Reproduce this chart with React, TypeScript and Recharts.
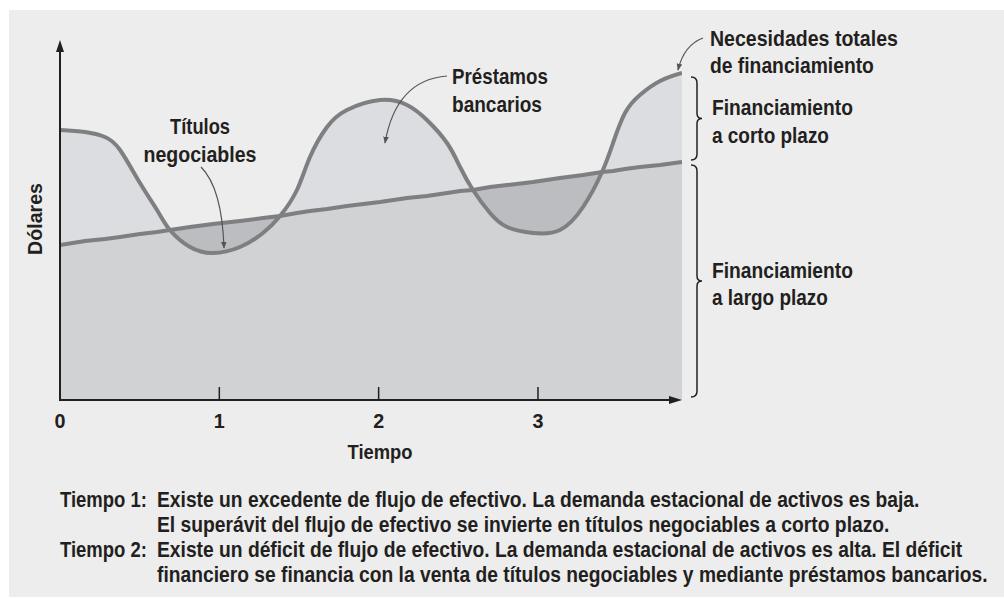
import React, { useLayoutEffect, useRef, useState } from 'react';
import { ComposedChart, Area, Line, XAxis, YAxis, ReferenceLine } from 'recharts';

// tiempo (eje x)
const tiempo = [
  0, 0.157, 0.282, 0.377, 0.502, 0.609, 0.69, 0.816, 0.96, 1.13, 1.274, 1.381,
  1.487, 1.569, 1.676, 1.801, 2.008, 2.178, 2.303, 2.429, 2.511, 2.592, 2.699,
  2.806, 2.969, 3.138, 3.283, 3.402, 3.471, 3.546, 3.64, 3.766, 3.904,
];

// necesidades totales de financiamiento (curva estacional)
const necesidadesTotales = [
  270, 268, 263, 250, 217, 190, 170, 153, 147, 153, 167, 184,
  210, 243, 273, 290, 300, 295, 280, 257, 233, 210, 187,
  173, 167, 170, 193, 228, 257, 287, 305, 319, 327,
];

// financiamiento a largo plazo (recta)
const financiamientoLargo = [
  155, 159, 161, 163, 166, 168, 170, 173, 176, 179, 182, 184,
  187, 189, 191, 194, 198, 202, 204, 207, 209, 210, 213,
  215, 218, 222, 225, 228, 229, 231, 233, 235, 238,
];

const ticksTiempo = [0, 1, 2, 3];

const data = tiempo.map((t, i) => ({
  t,
  total: necesidadesTotales[i],
  largo: financiamientoLargo[i],
  titulos:
    necesidadesTotales[i] <= financiamientoLargo[i]
      ? [necesidadesTotales[i], financiamientoLargo[i]]
      : null,
}));

const FONT = "'Liberation Sans', Arial, sans-serif";
const INK = '#231f20';

// texto "condensado": se mide y se escala en x hasta el ancho de la referencia
function Txt({ x, y, w, size = 22, anchor = 'start', rotate = 0, children }: any) {
  const ref = useRef<SVGTextElement>(null);
  const [sx, setSx] = useState(1);
  useLayoutEffect(() => {
    if (ref.current && w) {
      const len = ref.current.getComputedTextLength();
      if (len > 0) setSx(w / len);
    }
  }, [w, children]);
  return (
    <g transform={`translate(${x},${y}) rotate(${rotate}) scale(${sx},1)`}>
      <text ref={ref} x={0} y={0} textAnchor={anchor} fontFamily={FONT} fontWeight="bold" fontSize={size} fill={INK}>
        {children}
      </text>
    </g>
  );
}

const TickTiempo = (props: any) => {
  const { x, y, payload } = props;
  return (
    <g>
      {payload.value !== 0 && <line x1={x} x2={x} y1={y - 13} y2={y} stroke={INK} strokeWidth={1.5} />}
      <Txt x={x} y={y + 28} w={11} size={20} anchor="middle">{payload.value}</Txt>
    </g>
  );
};

const EjeY = (props: any) => {
  const { x1, y1, x2, y2 } = props;
  return (
    <g>
      <line x1={x1} y1={y1 + 1} x2={x2} y2={y2 + 8} stroke={INK} strokeWidth={2} />
      <polygon points={`${x2},${y2} ${x2 - 4},${y2 + 12} ${x2 + 4},${y2 + 12}`} fill={INK} />
    </g>
  );
};

const EjeX = (props: any) => {
  const { x1, y1, x2, y2 } = props;
  return (
    <g>
      <line x1={x1 - 1} y1={y1} x2={x2 - 8} y2={y2} stroke={INK} strokeWidth={2} />
      <polygon points={`${x2},${y2} ${x2 - 13},${y2 - 4} ${x2 - 13},${y2 + 4}`} fill={INK} />
    </g>
  );
};

function brace(x: number, y1: number, y2: number) {
  const ym = (y1 + y2) / 2;
  return `M${x - 6},${y1} Q${x},${y1} ${x},${y1 + 6} L${x},${ym - 5} Q${x},${ym} ${x + 5},${ym} Q${x},${ym} ${x},${ym + 5} L${x},${y2 - 6} Q${x},${y2} ${x - 6},${y2}`;
}

export default function App() {
  return (
    <div style={{ position: 'absolute', left: 0, top: 0, width: 1004, height: 598, background: '#fff' }}>
      <div style={{ position: 'absolute', left: 9, top: 10, width: 995, height: 587, background: '#ededed' }} />
      <div style={{ position: 'absolute', left: 0, top: 0 }}>
        <ComposedChart width={1004} height={598} data={data} margin={{ top: 40, right: 322, left: 0, bottom: 138 }}>
          <YAxis type="number" domain={[0, 360]} width={60} tick={false} axisLine={false} tickLine={false} />
          <Area type="natural" dataKey="total" fill="#dcdde0" fillOpacity={1} stroke="none" isAnimationActive={false} dot={false} activeDot={false} />
          <Area type="linear" dataKey="largo" fill="#d1d2d4" fillOpacity={1} stroke="none" isAnimationActive={false} dot={false} activeDot={false} />
          <Area type="natural" dataKey="titulos" fill="#bcbdc0" fillOpacity={1} stroke="none" isAnimationActive={false} dot={false} activeDot={false} />
          <Line type="linear" dataKey="largo" stroke="#7e7f81" strokeWidth={4} dot={false} activeDot={false} isAnimationActive={false} />
          <Line type="natural" dataKey="total" stroke="#7e7f81" strokeWidth={4} dot={false} activeDot={false} isAnimationActive={false} />
          <XAxis
            dataKey="t"
            type="number"
            domain={[0, 3.904]}
            allowDataOverflow
            ticks={ticksTiempo}
            interval={0}
            height={60}
            axisLine={false}
            tickLine={false}
            tickSize={0}
            tickMargin={0}
            tick={<TickTiempo />}
          />
          <ReferenceLine segment={[{ x: 0, y: 0 }, { x: 0, y: 360 }]} shape={EjeY} ifOverflow="visible" />
          <ReferenceLine segment={[{ x: 0, y: 0 }, { x: 3.904, y: 0 }]} shape={EjeX} ifOverflow="visible" />
        </ComposedChart>
      </div>
      <svg width={1004} height={598} style={{ position: 'absolute', left: 0, top: 0, pointerEvents: 'none' }}>
        <defs>
          <marker id="punta" viewBox="0 0 10 10" refX="9" refY="5" markerWidth="7" markerHeight="7" orient="auto" markerUnits="userSpaceOnUse">
            <path d="M0,1 L10,5 L0,9 Z" fill="#555" />
          </marker>
        </defs>
        <Txt x={42} y={219} w={72} size={21} anchor="middle" rotate={-90}>Dólares</Txt>
        <Txt x={380} y={459} w={65} size={20} anchor="middle">Tiempo</Txt>

        <Txt x={200} y={134} w={60} anchor="middle">Títulos</Txt>
        <Txt x={200} y={162} w={113} anchor="middle">negociables</Txt>
        <path d="M201,167 Q222,188 224,248" fill="none" stroke="#555" strokeWidth={1.2} markerEnd="url(#punta)" />

        <Txt x={452} y={84} w={96}>Préstamos</Txt>
        <Txt x={452} y={112} w={90}>bancarios</Txt>
        <path d="M447,76 Q396,80 385,143" fill="none" stroke="#555" strokeWidth={1.2} markerEnd="url(#punta)" />

        <Txt x={710} y={46} w={188}>Necesidades totales</Txt>
        <Txt x={710} y={73} w={164}>de financiamiento</Txt>
        <path d="M703,38 Q684,45 678,70" fill="none" stroke="#555" strokeWidth={1.2} markerEnd="url(#punta)" />

        <path d={brace(697, 77, 160)} fill="none" stroke={INK} strokeWidth={1.5} />
        <Txt x={712} y={115} w={141}>Financiamiento</Txt>
        <Txt x={712} y={143} w={117}>a corto plazo</Txt>

        <path d={brace(697, 165, 397)} fill="none" stroke={INK} strokeWidth={1.5} />
        <Txt x={712} y={278} w={141}>Financiamiento</Txt>
        <Txt x={712} y={305} w={116}>a largo plazo</Txt>

        <Txt x={60} y={507} w={87}>Tiempo 1:</Txt>
        <Txt x={157} y={507} w={763}>Existe un excedente de flujo de efectivo. La demanda estacional de activos es baja.</Txt>
        <Txt x={157} y={532} w={733}>El superávit del flujo de efectivo se invierte en títulos negociables a corto plazo.</Txt>
        <Txt x={60} y={557} w={87}>Tiempo 2:</Txt>
        <Txt x={157} y={557} w={806}>Existe un déficit de flujo de efectivo. La demanda estacional de activos es alta. El déficit</Txt>
        <Txt x={157} y={582} w={831}>financiero se financia con la venta de títulos negociables y mediante préstamos bancarios.</Txt>
      </svg>
    </div>
  );
}
